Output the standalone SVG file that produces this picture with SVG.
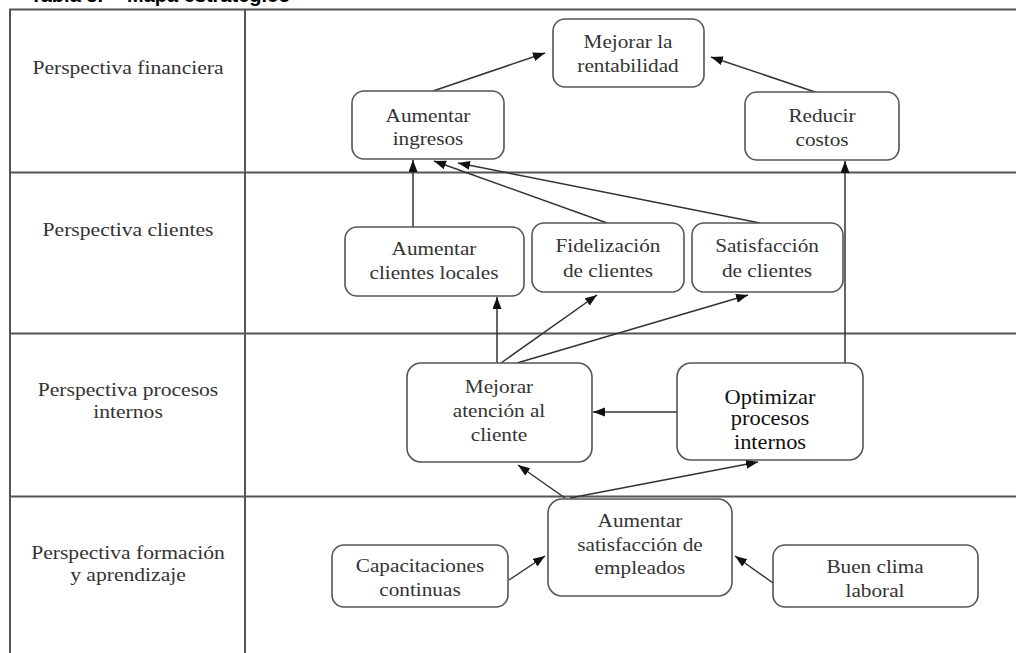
<svg xmlns="http://www.w3.org/2000/svg" width="1016" height="653" viewBox="0 0 1016 653">
<style>
.grid{stroke:#555;stroke-width:2;fill:none}
.box{fill:#fff;stroke:#555;stroke-width:1.6}
.t{font-family:"Liberation Serif","Times New Roman",serif;font-size:18px;fill:#333;text-anchor:middle}
.t2{font-family:"Liberation Serif","Times New Roman",serif;font-size:20px;fill:#111;text-anchor:middle}
.title{font-family:"Liberation Sans",Arial,sans-serif;font-size:20px;font-weight:bold;fill:#000}
.c{stroke:#333;stroke-width:1.5;fill:none;marker-end:url(#ah)}
</style>
<defs>
<marker id="ah" markerUnits="userSpaceOnUse" markerWidth="13" markerHeight="10" refX="12" refY="4.5" orient="auto">
<path d="M0,0 L12,4.5 L0,9 z" fill="#111"/>
</marker>
</defs>
<rect width="1016" height="653" fill="#fff"/>
<text class="title" x="30" y="1.5">Tabla 3. <tspan x="127">Mapa estratégico</tspan></text>
<g id="table">
<line class="grid" x1="10" y1="9" x2="10" y2="653"/>
<line class="grid" x1="245" y1="9" x2="245" y2="653"/>
<line class="grid" x1="9" y1="9.5" x2="1016" y2="9.5"/>
<line class="grid" x1="9" y1="172.5" x2="1016" y2="172.5"/>
<line class="grid" x1="9" y1="333.5" x2="1016" y2="333.5"/>
<line class="grid" x1="9" y1="496.5" x2="1016" y2="496.5"/>
<text class="t" transform="translate(128 74) scale(1.2 1)">Perspectiva financiera</text>
<text class="t" transform="translate(128 236) scale(1.2 1)">Perspectiva clientes</text>
<text class="t" transform="translate(128 396) scale(1.2 1)"><tspan x="0">Perspectiva procesos</tspan><tspan x="0" dy="22">internos</tspan></text>
<text class="t" transform="translate(128 559) scale(1.2 1)"><tspan x="0">Perspectiva formación</tspan><tspan x="0" dy="22">y aprendizaje</tspan></text>
</g>
<g id="connectors">
<path class="c" d="M433,91 L545,53"/>
<path class="c" d="M818,93 L711,57"/>
<path class="c" d="M413,227 L413,160"/>
<path class="c" d="M607,223 L434,161"/>
<path class="c" d="M760,223 L458,163"/>
<path class="c" d="M497,363 L497,297"/>
<path class="c" d="M501,363 L597,295"/>
<path class="c" d="M517,363 L748,295"/>
<path class="c" d="M845,363 L845,161"/>
<path class="c" d="M677,412 L593,412"/>
<path class="c" d="M565,498 L518,465"/>
<path class="c" d="M570,498 L758,462"/>
<path class="c" d="M509,580 L545,556"/>
<path class="c" d="M773,583 L735,556"/>
</g>
<g id="n-rentabilidad">
<rect class="box" x="553" y="19" width="151" height="68" rx="12"/>
<text class="t" transform="translate(628 48) scale(1.18 1)"><tspan x="0">Mejorar la</tspan><tspan x="0" dy="24">rentabilidad</tspan></text>
</g>
<g id="n-ingresos">
<rect class="box" x="352" y="91" width="152" height="68" rx="12"/>
<text class="t" transform="translate(428 122) scale(1.18 1)"><tspan x="0">Aumentar</tspan><tspan x="0" dy="23">ingresos</tspan></text>
</g>
<g id="n-costos">
<rect class="box" x="745" y="92" width="154" height="68" rx="12"/>
<text class="t" transform="translate(822 122) scale(1.18 1)"><tspan x="0">Reducir</tspan><tspan x="0" dy="24">costos</tspan></text>
</g>
<g id="n-clientes-locales">
<rect class="box" x="345" y="227" width="179" height="69" rx="12"/>
<text class="t" transform="translate(434 255) scale(1.18 1)"><tspan x="0">Aumentar</tspan><tspan x="0" dy="24">clientes locales</tspan></text>
</g>
<g id="n-fidelizacion">
<rect class="box" x="532" y="223" width="152" height="69" rx="12"/>
<text class="t" transform="translate(608 252) scale(1.18 1)"><tspan x="0">Fidelización</tspan><tspan x="0" dy="25">de clientes</tspan></text>
</g>
<g id="n-satisfaccion">
<rect class="box" x="692" y="223" width="151" height="69" rx="12"/>
<text class="t" transform="translate(767 252) scale(1.18 1)"><tspan x="0">Satisfacción</tspan><tspan x="0" dy="25">de clientes</tspan></text>
</g>
<g id="n-atencion">
<rect class="box" x="407" y="363" width="185" height="99" rx="14"/>
<text class="t" transform="translate(499 393) scale(1.18 1)"><tspan x="0">Mejorar</tspan><tspan x="0" dy="24">atención al</tspan><tspan x="0" dy="24">cliente</tspan></text>
</g>
<g id="n-optimizar">
<rect class="box" x="677" y="363" width="186" height="97" rx="14"/>
<text class="t2" transform="translate(770 404) scale(1.12 1)"><tspan x="0">Optimizar</tspan><tspan x="0" dy="21">procesos</tspan><tspan x="0" dy="24">internos</tspan></text>
</g>
<g id="n-empleados">
<rect class="box" x="548" y="499" width="184" height="97" rx="14"/>
<text class="t" transform="translate(640 527) scale(1.18 1)"><tspan x="0">Aumentar</tspan><tspan x="0" dy="24">satisfacción de</tspan><tspan x="0" dy="23">empleados</tspan></text>
</g>
<g id="n-capacitaciones">
<rect class="box" x="332" y="545" width="176" height="62" rx="12"/>
<text class="t" transform="translate(420 572) scale(1.18 1)"><tspan x="0">Capacitaciones</tspan><tspan x="0" dy="24">continuas</tspan></text>
</g>
<g id="n-clima">
<rect class="box" x="773" y="545" width="205" height="62" rx="12"/>
<text class="t" transform="translate(875 573) scale(1.18 1)"><tspan x="0">Buen clima</tspan><tspan x="0" dy="24">laboral</tspan></text>
</g>
</svg>
